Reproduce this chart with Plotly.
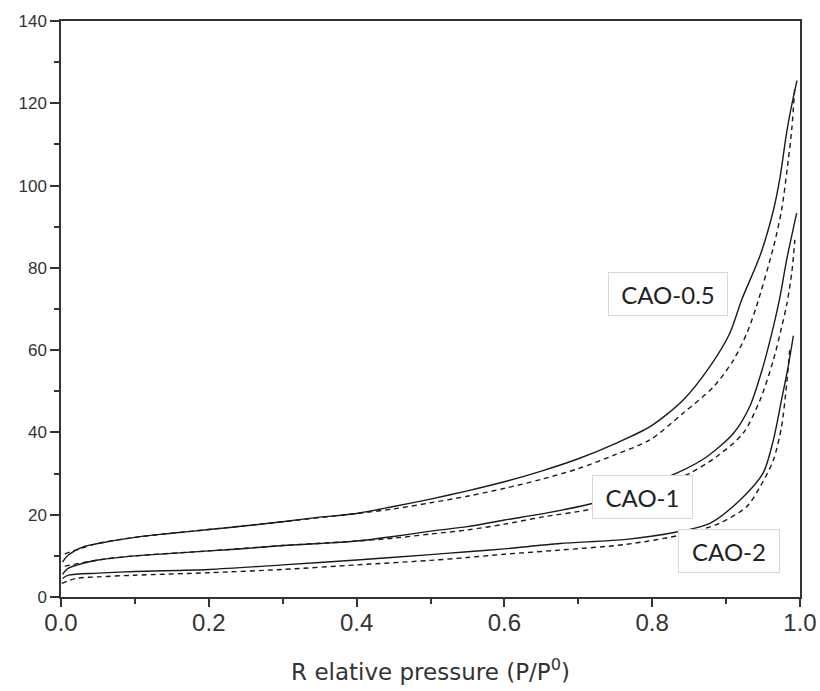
import plotly.graph_objects as go

# CAO-0.5
cao05_ads_x = [0.002, 0.01, 0.03, 0.05, 0.1, 0.15, 0.2, 0.25, 0.3, 0.35, 0.4, 0.45, 0.5, 0.55, 0.6, 0.65, 0.7, 0.75, 0.797, 0.842, 0.878, 0.905, 0.921, 0.946, 0.964, 0.973, 0.982, 0.991, 0.996]
cao05_ads_y = [8.5, 10.2, 12.2, 13.0, 14.5, 15.5, 16.4, 17.3, 18.3, 19.4, 20.3, 22.0, 23.8, 25.8, 28.0, 30.6, 33.6, 37.3, 41.4, 47.9, 56.0, 64.1, 72.2, 83.0, 94.0, 102.0, 113.0, 121.5, 125.5]
cao05_des_x = [0.005, 0.05, 0.1, 0.2, 0.3, 0.4, 0.45, 0.5, 0.55, 0.6, 0.65, 0.7, 0.75, 0.797, 0.842, 0.883, 0.91, 0.928, 0.941, 0.964, 0.975, 0.984, 0.989, 0.993]
cao05_des_y = [10.5, 13.0, 14.5, 16.4, 18.3, 20.3, 21.4, 22.9, 24.5, 26.4, 28.6, 31.2, 34.6, 38.2, 44.7, 51.1, 57.6, 64.1, 70.6, 85.0, 94.0, 106.0, 114.0, 124.0]

# CAO-1
cao1_ads_x = [0.002, 0.01, 0.03, 0.05, 0.1, 0.15, 0.2, 0.25, 0.3, 0.35, 0.4, 0.45, 0.5, 0.55, 0.6, 0.65, 0.716, 0.77, 0.833, 0.874, 0.91, 0.932, 0.95, 0.964, 0.973, 0.982, 0.9955]
cao1_ads_y = [5.5, 7.0, 8.2, 9.0, 10.0, 10.6, 11.2, 11.8, 12.5, 13.0, 13.6, 14.7, 16.0, 17.1, 18.7, 20.2, 22.6, 26.0, 30.1, 34.1, 39.8, 46.3, 56.0, 65.7, 73.0, 82.0, 93.3]
cao1_des_x = [0.005, 0.05, 0.1, 0.2, 0.3, 0.4, 0.45, 0.5, 0.55, 0.6, 0.65, 0.716, 0.77, 0.851, 0.887, 0.923, 0.946, 0.964, 0.975, 0.982, 0.989, 0.993]
cao1_des_y = [7.5, 9.0, 10.0, 11.2, 12.5, 13.6, 14.3, 15.3, 16.3, 17.7, 19.4, 21.3, 24.0, 30.1, 34.1, 39.8, 47.9, 57.6, 65.5, 71.0, 79.0, 86.8]

# CAO-2
cao2_ads_x = [0.002, 0.01, 0.05, 0.1, 0.2, 0.3, 0.4, 0.5, 0.55, 0.6, 0.675, 0.765, 0.833, 0.878, 0.919, 0.95, 0.964, 0.975, 0.984, 0.991]
cao2_ads_y = [4.5, 5.3, 5.8, 6.2, 6.7, 7.8, 9.0, 10.3, 11.0, 11.7, 13.0, 14.0, 15.8, 17.9, 23.6, 30.1, 38.2, 47.9, 56.0, 63.5]
cao2_des_x = [0.001, 0.02, 0.05, 0.1, 0.2, 0.3, 0.4, 0.5, 0.55, 0.6, 0.675, 0.765, 0.842, 0.892, 0.928, 0.946, 0.964, 0.975, 0.982, 0.986]
cao2_des_y = [3.3, 4.5, 4.9, 5.3, 5.9, 6.7, 7.8, 8.9, 9.6, 10.4, 11.4, 12.8, 15.2, 18.0, 22.0, 26.8, 33.3, 41.4, 51.9, 60.0]

labels = ["CAO-0.5", "CAO-1", "CAO-2"]
label_x = [0.8214, 0.7869, 0.9039]
label_y = [73.6, 24.3, 11.1]
label_w = [104, 85, 86]

x_ticks = [0.0, 0.2, 0.4, 0.6, 0.8, 1.0]
y_ticks = [0, 20, 40, 60, 80, 100, 120, 140]

fig = go.Figure()
series = [
    (cao05_ads_x, cao05_ads_y, "solid"),
    (cao05_des_x, cao05_des_y, "5px,4px"),
    (cao1_ads_x, cao1_ads_y, "solid"),
    (cao1_des_x, cao1_des_y, "5px,4px"),
    (cao2_ads_x, cao2_ads_y, "solid"),
    (cao2_des_x, cao2_des_y, "5px,4px"),
]
for xs, ys, dash in series:
    fig.add_trace(go.Scatter(x=xs, y=ys, mode="lines",
                             line=dict(color="#1a1a1a", width=1.4, dash=dash, shape="spline", smoothing=0.8),
                             showlegend=False, hoverinfo="skip"))

for t, lx, ly, w in zip(labels, label_x, label_y, label_w):
    fig.add_annotation(x=lx, y=ly, text=t, showarrow=False,
                       font=dict(family="Lato", size=24, color="#222"),
                       width=w, height=28, align="center",
                       bgcolor="white", bordercolor="#d8d8d8", borderwidth=1,
                       borderpad=7)

axis_line = dict(showline=True, linecolor="#333", linewidth=1.5, mirror=True, automargin=False,
                 showgrid=False, zeroline=False, ticks="outside", tickcolor="#333", tickwidth=1.5)

fig.update_xaxes(range=[0, 1], tickvals=x_ticks, ticktext=[f"{v:.1f}" for v in x_ticks],
                 ticklen=8, ticklabelstandoff=-5,
                 tickfont=dict(family="Liberation Sans", size=24, color="#333"),
                 minor=dict(dtick=0.1, tick0=0, ticklen=5, ticks="outside", tickcolor="#333", tickwidth=1.5),
                 title=dict(text="R elative pressure (P/P<sup>0</sup>)",
                            font=dict(family="DejaVu Sans", size=23, color="#333"), standoff=29),
                 **axis_line)
fig.update_yaxes(range=[0, 140], tickvals=y_ticks,
                 ticklen=9, tickfont=dict(family="Liberation Sans", size=17, color="#333"),
                 minor=dict(dtick=10, tick0=0, ticklen=5, ticks="outside", tickcolor="#333", tickwidth=1.5),
                 **axis_line)

fig.update_layout(width=820, height=691, margin=dict(l=61, r=20, t=21, b=94),
                  plot_bgcolor="white", paper_bgcolor="white")

fig.write_html("out.html")
